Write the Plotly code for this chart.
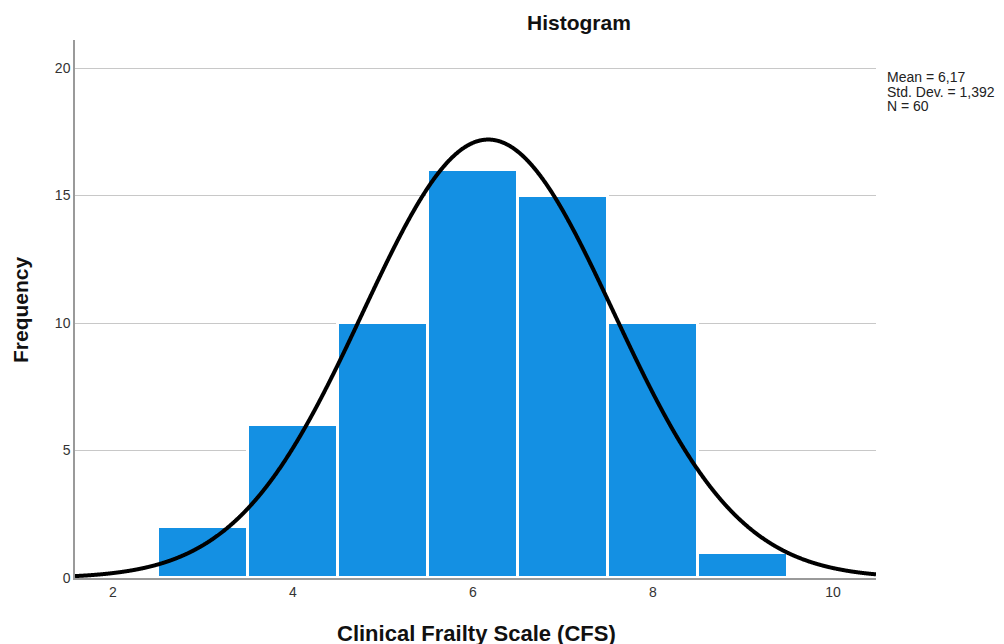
import numpy as np
import plotly.graph_objects as go

# Data
bin_centers = [3, 4, 5, 6, 7, 8, 9]
frequencies = [2, 6, 10, 16, 15, 10, 1]
mean_val = 6.17
std_dev = 1.392
n_obs = 60
bin_width = 1.0
x_ticks = [2, 4, 6, 8, 10]
y_ticks = [0, 5, 10, 15, 20]

FONT = "Liberation Sans, Arial, sans-serif"

xs = np.linspace(1.578, 10.478, 1200)
ys = n_obs * bin_width / (std_dev * np.sqrt(2 * np.pi)) * np.exp(-0.5 * ((xs - mean_val) / std_dev) ** 2)

fig = go.Figure()
fig.add_trace(go.Bar(
    x=bin_centers, y=frequencies, width=bin_width,
    marker=dict(color="#1490E3", line=dict(color="white", width=3)),
    showlegend=False, hoverinfo="x+y",
))
fig.add_trace(go.Scatter(
    x=xs, y=ys, mode="lines", line=dict(color="black", width=4, shape="spline"),
    showlegend=False, hoverinfo="skip",
))

# page offset of the figure in the browser (~8px body margin)
OFF = 8
L, R, T, B = 75, 876, 40, 578  # target plot-area page coords
fig.update_layout(
    width=1004, height=644,
    margin=dict(l=L - OFF, r=1004 - R + OFF, t=T - OFF, b=644 - B + OFF),
    paper_bgcolor="white", plot_bgcolor="white",
    bargap=0,
    font=dict(family=FONT, color="#222222"),
    xaxis=dict(
        range=[1.578, 10.478], tickvals=x_ticks, ticktext=[str(v) for v in x_ticks],
        showgrid=False, zeroline=False, showline=True, linecolor="#9a9a9a", linewidth=1.5,
        ticks="", tickfont=dict(size=14, family=FONT, color="#333333"),
    ),
    yaxis=dict(
        range=[0, 21.1], tickvals=y_ticks, ticktext=[str(v) for v in y_ticks],
        showgrid=True, gridcolor="#c8c8c8", gridwidth=1.2,
        zeroline=False, showline=True, linecolor="#9a9a9a", linewidth=1.5,
        ticks="", tickfont=dict(size=14, family=FONT, color="#333333"),
    ),
)
plot_w = R - L
plot_h = B - T


def px(xp):
    return (xp - L) / plot_w


def py(yp):
    return (B - yp) / plot_h


fig.add_annotation(text="<b>Histogram</b>", x=px(579), y=py(22),
                   xref="paper", yref="paper", showarrow=False, xanchor="center", yanchor="middle",
                   font=dict(size=21, family=FONT, color="#111111"))
fig.add_annotation(text="<b>Clinical Frailty Scale (CFS)</b>", x=px(476), y=py(633),
                   xref="paper", yref="paper", showarrow=False, xanchor="center", yanchor="middle",
                   font=dict(size=22, family=FONT, color="#111111"))
fig.add_annotation(text="<b>Frequency</b>", x=px(20), y=py(310), textangle=-90,
                   xref="paper", yref="paper", showarrow=False, xanchor="center", yanchor="middle",
                   font=dict(size=21, family=FONT, color="#111111"))
stat_lines = [f"Mean = {str(mean_val).replace('.', ',')}",
              f"Std. Dev. = {str(std_dev).replace('.', ',')}",
              f"N = {n_obs}"]
for i, line in enumerate(stat_lines):
    fig.add_annotation(text=line, x=px(885), y=py(77 + 14.5 * i), xref="paper", yref="paper",
                       showarrow=False, xanchor="left", yanchor="middle",
                       font=dict(size=14, family=FONT, color="#222222"))

fig.write_html("out.html")
